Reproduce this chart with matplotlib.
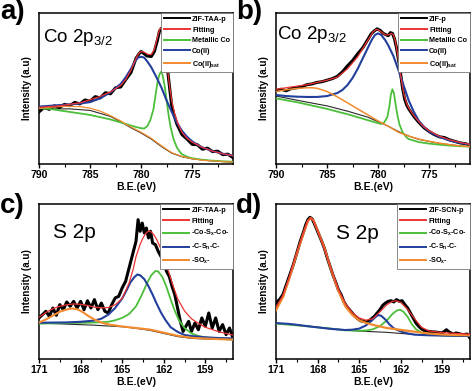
import matplotlib
matplotlib.use("Agg")
import matplotlib.pyplot as plt

plt.rcParams['font.family'] = ['Liberation Sans', 'DejaVu Sans']
plt.rcParams['mathtext.fontset'] = 'custom'
plt.rcParams['mathtext.rm'] = 'Liberation Sans'
plt.rcParams['mathtext.bf'] = 'Liberation Sans:bold'
plt.rcParams['mathtext.it'] = 'Liberation Sans:italic'

# ---------------- Panel a: Co 2p3/2, ZIF-TAA-p ----------------
a_data_x = [790, 789.5, 789, 788.5, 788, 787.5, 787, 786.5, 786, 785.5, 785, 784.5, 784, 783.5,
            783, 782.5, 782, 781.5, 781, 780.5, 780.2, 780, 779.7, 779.4, 779, 778.7, 778.4,
            778.2, 778, 777.8, 777.6, 777.4, 777.2, 777, 776.8, 776.5, 776, 775.5, 775, 774.5,
            774, 773.5, 773, 772.5, 772, 771.5, 771]
a_data_y = [34.5, 37.5, 36.2, 38.5, 37.4, 39.5, 38.6, 40.8, 39.8, 42.4, 41.5, 44.6, 43.8, 47.2,
            46.5, 50.5, 51.0, 56.0, 60.5, 70.0, 73.0, 74.5, 73.0, 71.5, 71.2, 74.5, 82.0,
            88.0, 90.0, 85.0, 74.0, 62.0, 50.0, 38.5, 33.0, 26.5, 19.5, 16.5, 13.0, 12.8,
            9.8, 10.5, 8.2, 8.5, 6.2, 6.5, 4.2]
a_fit_x = [790, 788, 786, 785, 784, 783, 782, 781.5, 781, 780.5, 780.2, 780, 779.7, 779.3, 779,
           778.7, 778.4, 778.2, 778.1, 778, 777.8, 777.6, 777.4, 777.2, 777, 776.7, 776.4, 776,
           775.5, 775, 774, 773, 772, 771]
a_fit_y = [37.5, 38.5, 40.5, 42.5, 44.8, 47.8, 52.0, 56.0, 62.0, 70.0, 73.5, 74.5, 74.0, 72.5, 72.5,
           76.0, 84.0, 89.0, 90.0, 89.5, 84.0, 74.0, 62.0, 51.0, 42.0, 33.0, 27.0, 21.0,
           17.0, 14.5, 11.0, 8.5, 6.8, 5.5]
a_met_x = [790, 789, 788, 787, 786, 785, 784, 783, 782, 781, 780.5, 780, 779.7, 779.4, 779.1, 778.8,
           778.6, 778.4, 778.2, 778.05, 777.9, 777.7, 777.5, 777.3, 777.1, 776.8, 776.5, 776.2,
           776, 775.5, 775, 774, 773, 772, 771]
a_met_y = [37.0, 36.5, 35.5, 34.5, 33.5, 32.5, 31.0, 29.5, 27.5, 25.5, 24.5, 23.7, 23.5, 25.0, 29.0,
           36.0, 45.0, 54.0, 59.5, 61.0, 59.0, 52.0, 42.0, 32.0, 24.0, 16.0, 11.0, 8.0,
           6.5, 4.8, 3.8, 2.8, 2.2, 1.8, 1.5]
a_co2_x = [790, 789, 788, 787, 786, 785, 784, 783, 782, 781.5, 781, 780.6, 780.3, 780, 779.7, 779.4,
           779, 778.5, 778, 777.5, 777, 776.5, 776, 775.5, 775, 774.5, 774, 773, 772, 771]
a_co2_y = [38.0, 38.5, 39.0, 39.5, 40.0, 41.0, 43.5, 47.5, 53.0, 57.5, 63.0, 68.0, 70.5, 71.0, 70.5,
           68.0, 64.0, 57.5, 50.5, 42.0, 34.5, 27.5, 22.0, 18.0, 15.0, 12.8, 11.0, 8.5, 6.8, 5.5]
a_sat_x = [790, 789, 788, 787, 786, 785, 784, 783, 782, 781, 780, 779, 778, 777, 776, 775, 774, 773,
           772, 771]
a_sat_y = [37.0, 37.5, 38.0, 38.2, 38.0, 37.0, 35.0, 32.0, 28.5, 24.5, 21.0, 17.0, 12.0, 7.5, 5.0,
           3.5, 2.5, 2.0, 1.6, 1.3]
a_bg_x = [790, 787, 785, 783, 782, 781, 780, 779, 778, 777, 776, 775, 773, 771]
a_bg_y = [36.5, 36.5, 35.5, 31.5, 28.0, 24.0, 20.5, 16.5, 11.5, 7.2, 4.8, 3.4, 2.0, 1.2]

# ---------------- Panel b: Co 2p3/2, ZIF-p ----------------
b_data_x = [790, 789.5, 789, 788.5, 788, 787.5, 787, 786.5, 786, 785.5, 785, 784.5, 784, 783.5, 783,
            782.5, 782, 781.5, 781, 780.7, 780.4, 780.1, 779.8, 779.5, 779.2, 779, 778.8, 778.6,
            778.4, 778.2, 778, 777.8, 777.6, 777.4, 777.2, 777, 776.5, 776, 775.5, 775, 774.5,
            774, 773.5, 773, 772.5, 772, 771.5, 771]
b_data_y = [48.6, 49.5, 48.5, 50.0, 50.5, 51.0, 52.5, 53.0, 54.0, 54.5, 55.5, 56.5, 58.0, 61.0, 65.0,
            68.5, 73.0, 77.0, 82.5, 86.0, 88.0, 89.5, 88.5, 86.5, 85.5, 85.0, 87.0, 86.5,
            83.0, 77.0, 69.0, 60.0, 50.0, 43.0, 39.0, 36.5, 31.5, 27.5, 24.0, 21.5, 19.5,
            18.0, 17.5, 16.0, 15.0, 14.0, 13.5, 12.5]
b_fit_x = [790, 789, 788, 787, 786, 785, 784, 783, 782, 781.5, 781, 780.5, 780.2, 780, 779.7, 779.3,
           779, 778.7, 778.5, 778.3, 778.1, 777.9, 777.7, 777.5, 777.2, 777, 776.5, 776, 775.5,
           775, 774, 773, 772, 771]
b_fit_y = [49.5, 50.5, 51.5, 52.5, 54.0, 55.5, 57.5, 63.0, 71.0, 76.5, 82.0, 87.5, 89.0, 89.0, 87.5,
           85.5, 85.5, 86.5, 85.5, 81.0, 73.0, 64.0, 55.0, 47.0, 40.0, 37.0, 32.0, 28.0, 24.5,
           22.0, 18.5, 16.0, 14.3, 13.0]
b_met_x = [790, 789, 788, 787, 786, 785, 784, 783, 782, 781, 780, 779.7, 779.4, 779.1, 778.9, 778.75,
           778.6, 778.45, 778.3, 778.1, 777.9, 777.6, 777.2, 777, 776, 775, 774, 773, 772, 771]
b_met_y = [43.5, 42.2, 41.0, 39.5, 38.0, 36.5, 34.7, 33.0, 31.0, 29.0, 27.0, 26.5, 27.5, 31.0, 38.0,
           46.0, 49.5, 47.0, 40.0, 32.0, 26.0, 21.0, 17.5, 16.5, 14.5, 13.5, 12.8, 12.2, 11.8, 11.5]
b_co2_x = [790, 789, 788, 787, 786, 785, 784, 783.5, 783, 782.5, 782, 781.5, 781, 780.6, 780.3, 780,
           779.7, 779.3, 779, 778.5, 778, 777.5, 777, 776.5, 776, 775.5, 775, 774, 773, 772, 771]
b_co2_y = [45.7, 45.0, 44.6, 44.4, 44.4, 45.0, 47.0, 49.0, 52.3, 57.0, 63.0, 70.0, 77.0, 82.5, 85.5,
           86.5, 85.5, 82.0, 78.5, 71.5, 62.0, 52.0, 42.0, 34.5, 28.5, 24.5, 21.5, 18.0, 15.5,
           14.0, 13.0]
b_sat_x = [790, 789, 788, 787, 786.5, 786, 785, 784, 783, 782, 781, 780, 779, 778, 777, 776, 775, 774,
           773, 772, 771]
b_sat_y = [48.0, 49.2, 50.0, 50.5, 50.5, 50.2, 48.0, 44.5, 40.5, 36.5, 32.5, 28.5, 25.0, 21.0, 18.5,
           16.5, 15.0, 13.8, 12.8, 12.0, 11.5]
b_bg_x = [790, 787, 785, 783, 781, 780, 779, 778, 777, 776, 774, 772, 771]
b_bg_y = [45.0, 41.0, 38.5, 35.0, 31.0, 28.0, 25.0, 21.5, 18.5, 16.3, 13.6, 12.0, 11.5]

# ---------------- Panel c: S 2p, ZIF-TAA-p ----------------
c_data_x = [171, 170.75, 170.5, 170.25, 170, 169.75, 169.5, 169.25, 169, 168.75, 168.5, 168.25, 168,
            167.75, 167.5, 167.25, 167, 166.75, 166.5, 166.25, 166, 165.75, 165.5, 165.25, 165,
            164.75, 164.5, 164.25, 164, 163.85, 163.7, 163.55, 163.4, 163.25, 163.1, 162.95, 162.8,
            162.6, 162.4, 162.2, 162, 161.8, 161.6, 161.4, 161.2, 161, 160.8, 160.6, 160.4, 160.2,
            160, 159.75, 159.5, 159.25, 159, 158.75, 158.5, 158.25, 158, 157.75, 157.5, 157.25, 157]
c_data_y = [26.5, 28.6, 30.8, 27.5, 32.9, 28.2, 35.1, 31.8, 36.8, 34.0, 37.2, 32.9, 37.2,
            31.8, 37.6, 32.9, 38.3, 31.8, 36.1, 30.8, 29.7, 35.1, 39.4, 40.4, 45.8,
            50.1, 58.7, 67.3, 75.9, 89.9, 82.4, 87.7, 81.3, 84.5, 78.1, 82.4, 74.8,
            73.8, 69.5, 66.2, 63.0, 56.6, 53.3, 46.9, 41.5, 32.9, 24.3, 17.8, 21.1, 24.3,
            17.8, 23.2, 18.9, 26.5, 21.1, 29.7, 20.0, 26.5, 17.8, 22.2, 15.7, 20.0, 13.5]
c_fit_x = [171, 170.5, 170, 169.5, 169, 168.5, 168, 167.5, 167, 166.5, 166, 165.5, 165, 164.5, 164.2,
           164, 163.7, 163.5, 163.3, 163.1, 162.9, 162.7, 162.5, 162.2, 162, 161.7, 161.5, 161.2,
           161, 160.5, 160, 159.5, 159, 158, 157]
c_fit_y = [26.9, 30.0, 32.5, 34.0, 35.0, 35.5, 35.3, 34.5, 33.5, 33.0, 33.2, 35.0, 39.0, 49.0, 58.0,
           66.0, 74.0, 78.0, 81.0, 82.5, 82.0, 80.0, 77.0, 71.0, 66.0, 58.0, 52.0, 44.0,
           39.0, 31.0, 26.0, 23.0, 20.5, 17.5, 15.5]
c_cos_x = [171, 170, 169, 168, 167, 166, 165.5, 165, 164.5, 164, 163.6, 163.2, 162.9, 162.6, 162.4,
           162.1, 161.8, 161.5, 161.2, 160.9, 160.5, 160, 159.5, 159, 158, 157]
c_cos_y = [22.8, 23.0, 23.2, 23.3, 23.5, 24.0, 25.0, 26.5, 29.0, 34.0, 41.0, 49.0, 54.0, 56.8, 56.5,
           53.0, 46.5, 38.5, 31.0, 25.0, 20.0, 16.5, 14.8, 14.0, 13.0, 12.5]
c_csc_x = [171, 170, 169, 168, 167, 166.5, 166, 165.5, 165, 164.7, 164.4, 164.1, 163.9, 163.7, 163.4,
           163.1, 162.8, 162.5, 162.2, 161.9, 161.5, 161, 160.5, 160, 159, 158, 157]
c_csc_y = [23.4, 23.5, 23.6, 24.0, 24.8, 26.0, 28.6, 33.0, 39.0, 44.0, 49.5, 53.0, 54.5, 54.0, 51.5,
           47.0, 41.5, 35.5, 30.0, 25.5, 20.5, 17.5, 15.5, 14.8, 14.0, 13.5, 13.3]
c_sox_x = [171, 170.5, 170, 169.5, 169, 168.6, 168.2, 167.8, 167.4, 167, 166.5, 166, 165, 164, 163,
           162, 161, 160, 159, 158, 157]
c_sox_y = [23.5, 25.5, 28.0, 30.5, 32.0, 32.6, 32.0, 30.0, 27.5, 25.5, 23.5, 22.3, 21.0, 20.0, 19.0,
           17.0, 15.0, 13.7, 13.2, 12.8, 12.5]
c_bg_x = [171, 169, 167, 165, 164, 163, 162, 161, 160, 159, 157]
c_bg_y = [23.2, 22.5, 21.8, 20.8, 19.8, 18.5, 16.5, 14.5, 13.3, 12.9, 12.5]

# ---------------- Panel d: S 2p, ZIF-SCN-p ----------------
d_data_x = [171, 170.9, 170.75, 170.5, 170.25, 170, 169.75, 169.5, 169.25, 169, 168.85, 168.7, 168.55,
            168.4, 168.25, 168.1, 167.9, 167.7, 167.5, 167.3, 167.1, 166.9, 166.7, 166.5, 166.3,
            166.1, 165.9, 165.7, 165.5, 165.3, 165.1, 164.9, 164.7, 164.5, 164.3, 164.1, 163.9,
            163.7, 163.5, 163.3, 163.1, 162.9, 162.7, 162.5, 162.3, 162.1, 161.9, 161.7, 161.5,
            161.3, 161.1, 160.9, 160.7, 160.5, 160.3, 160, 159.5, 159, 158.7, 158.5, 158.2, 158,
            157.5, 157.2, 157]
d_data_y = [32.9, 37.2, 38.3, 41.5, 48.0, 54.4, 60.9, 68.4, 75.9, 82.4, 86.7, 89.9, 91.4,
            90.5, 87.7, 84.5, 80.2, 75.9, 71.2, 65.2, 59.8, 54.4, 49.7, 44.7, 41.5,
            36.8, 34.0, 31.8, 29.7, 27.5, 26.0, 24.7, 24.3, 23.9, 24.7, 26.0, 27.5,
            29.7, 31.8, 34.6, 36.1, 37.2, 37.6, 36.8, 38.3, 37.2, 37.6, 35.1, 32.9,
            29.7, 26.5, 23.2, 21.1, 19.4, 18.3, 17.8, 17.4, 16.8, 18.9, 17.4, 16.1, 16.8,
            15.7, 16.1, 13.5]
d_fit_x = [171, 170.5, 170, 169.5, 169, 168.7, 168.5, 168.3, 168, 167.5, 167, 166.5, 166, 165.5, 165,
           164.5, 164, 163.5, 163, 162.6, 162.3, 162, 161.5, 161, 160.5, 160, 159, 158, 157]
d_fit_y = [33.5, 41.0, 54.0, 68.5, 82.0, 89.5, 91.0, 89.5, 83.0, 71.0, 57.5, 45.0, 36.0, 30.0, 26.5,
           25.0, 26.0, 30.5, 35.0, 37.2, 37.5, 36.5, 32.0, 26.0, 20.5, 18.2, 17.0, 16.5, 16.0]
d_cos_x = [171, 169, 167, 166, 165, 164.5, 164, 163.5, 163, 162.6, 162.3, 162.05, 161.8, 161.5,
           161.2, 160.9, 160.5, 160, 159, 157]
d_cos_y = [22.8, 21.3, 19.6, 18.5, 18.2, 18.4, 19.2, 21.2, 24.9, 29.0, 31.2, 31.8, 30.5, 27.2,
           22.5, 19.2, 17.0, 15.8, 15.2, 14.8]
d_csc_x = [171, 170, 169, 168, 167, 166, 165.5, 165, 164.5, 164.1, 163.8, 163.6, 163.4, 163.1, 162.8,
           162.5, 162, 161.5, 161, 160, 159, 157]
d_csc_y = [23.2, 22.6, 21.5, 20.4, 19.4, 18.7, 18.9, 19.6, 21.7, 24.7, 27.3, 28.4, 27.8, 25.4, 22.2,
           19.8, 17.8, 16.5, 15.7, 15.3, 15.1, 14.8]
d_sox_x = [171, 170.5, 170, 169.5, 169, 168.7, 168.5, 168.3, 168, 167.5, 167, 166.5, 166, 165.5, 165,
           164.5, 164, 163, 162, 161, 160, 159, 158, 157]
d_sox_y = [31.5, 39.8, 53.0, 68.0, 81.5, 89.0, 91.0, 89.5, 83.0, 71.5, 57.0, 44.0, 34.0, 28.5, 25.0,
           23.3, 22.0, 20.0, 18.8, 17.6, 16.5, 15.8, 15.5, 15.3]
d_bg_x = [171, 169, 167, 165, 163, 161, 159, 157]
d_bg_y = [23.0, 21.5, 19.5, 18.0, 17.2, 15.8, 15.2, 14.8]

# ---------------- labels ----------------
co_xlim = (790, 771)
s_xlim = (171, 157)
co_ticks = [790, 785, 780, 775]
s_ticks = [171, 168, 165, 162, 159]
a_labels = ['ZIF-TAA-p', 'Fitting', 'Metallic Co', 'Co(II)', r'Co(II)$_{\mathbf{sat}}$']
b_labels = ['ZIF-p', 'Fitting', 'Metallic Co', 'Co(II)', r'Co(II)$_{\mathbf{sat}}$']
c_labels = ['ZIF-TAA-p', 'Fitting', r'-Co-S$_{\mathbf{x}}$-Co-', r'-C-S$_{\mathbf{n}}$-C-', r'-SO$_{\mathbf{x}}$-']
d_labels = ['ZIF-SCN-p', 'Fitting', r'-Co-S$_{\mathbf{x}}$-Co-', r'-C-S$_{\mathbf{n}}$-C-', r'-SO$_{\mathbf{x}}$-']

C_BLACK = '#000000'
C_RED = '#ee3333'
C_GREEN = '#4cbf3a'
C_BLUE = '#233f9c'
C_ORANGE = '#f28a2e'

fig = plt.figure(figsize=(4.74, 3.91), dpi=100)
W, H = 474, 391

def add_ax(x0, x1, y0, y1):
    return fig.add_axes([x0 / W, 1 - y1 / H, (x1 - x0) / W, (y1 - y0) / H])

ax_a = add_ax(39, 233, 13, 164)
ax_b = add_ax(276, 470, 13, 164)
ax_c = add_ax(39, 233, 204, 359)
ax_d = add_ax(276, 470, 204, 359)

def draw(ax, data, fit, comps, bg, labels, xlim, ticks, minor_step, sat_width=1.2):
    ax.plot(bg[0], bg[1], color='#2a2a2a', lw=0.8, zorder=1)
    h0, = ax.plot(data[0], data[1], color=C_BLACK, lw=2.2, zorder=2)
    h1, = ax.plot(fit[0], fit[1], color=C_RED, lw=0.9, zorder=5)
    hs = []
    for (xs, ys), col, lw in zip(comps, [C_GREEN, C_BLUE, C_ORANGE], [1.3, 1.5, sat_width]):
        h, = ax.plot(xs, ys, color=col, lw=lw, zorder=3)
        hs.append(h)
    ax.set_xlim(*xlim)
    ax.set_ylim(0, 100)
    ax.set_xticks(ticks)
    minors = []
    t = xlim[0]
    while t >= xlim[1]:
        minors.append(t)
        t -= minor_step
    ax.set_xticks(minors, minor=True)
    ax.set_yticks([])
    ax.tick_params(axis='x', which='major', direction='out', length=3, width=1.0, pad=1.5,
                   labelsize=7.5)
    ax.tick_params(axis='x', which='minor', direction='out', length=2, width=0.8)
    for lab in ax.get_xticklabels():
        lab.set_fontweight('bold')
    for sp in ax.spines.values():
        sp.set_linewidth(1.1)
    ax.set_xlabel('B.E.(eV)', fontsize=7.5, fontweight='bold', labelpad=1)
    ax.set_ylabel('Intensity (a.u)', fontsize=7, fontweight='bold', labelpad=5)
    leg = ax.legend([h0, h1] + hs, labels, loc='upper right', borderaxespad=0.0,
                    prop={'size': 5.2, 'weight': 'bold'}, handlelength=3.6, handletextpad=0.3,
                    labelspacing=0.5, borderpad=0.4, frameon=True, fancybox=False,
                    framealpha=1.0, edgecolor='#777777')
    leg.get_frame().set_linewidth(0.6)
    for line in leg.get_lines():
        line.set_linewidth(1.4)
    return ax

draw(ax_a, (a_data_x, a_data_y), (a_fit_x, a_fit_y),
     [(a_met_x, a_met_y), (a_co2_x, a_co2_y), (a_sat_x, a_sat_y)], (a_bg_x, a_bg_y),
     a_labels, co_xlim, co_ticks, 2.5, sat_width=0.9)
draw(ax_b, (b_data_x, b_data_y), (b_fit_x, b_fit_y),
     [(b_met_x, b_met_y), (b_co2_x, b_co2_y), (b_sat_x, b_sat_y)], (b_bg_x, b_bg_y),
     b_labels, co_xlim, co_ticks, 2.5, sat_width=1.1)
draw(ax_c, (c_data_x, c_data_y), (c_fit_x, c_fit_y),
     [(c_cos_x, c_cos_y), (c_csc_x, c_csc_y), (c_sox_x, c_sox_y)], (c_bg_x, c_bg_y),
     c_labels, s_xlim, s_ticks, 1.5, sat_width=1.5)
draw(ax_d, (d_data_x, d_data_y), (d_fit_x, d_fit_y),
     [(d_cos_x, d_cos_y), (d_csc_x, d_csc_y), (d_sox_x, d_sox_y)], (d_bg_x, d_bg_y),
     d_labels, s_xlim, s_ticks, 1.5, sat_width=1.6)

# panel titles
ax_a.text(0.02, 0.91, r'Co 2p$_{3/2}$', transform=ax_a.transAxes, fontsize=13.5, va='top', ha='left')
ax_b.text(0.005, 0.93, r'Co 2p$_{3/2}$', transform=ax_b.transAxes, fontsize=13.5, va='top', ha='left')
ax_c.text(0.07, 0.88, 'S 2p', transform=ax_c.transAxes, fontsize=15, va='top', ha='left')
ax_d.text(0.31, 0.87, 'S 2p', transform=ax_d.transAxes, fontsize=15, va='top', ha='left')

# panel letters
for lbl, (px, py) in zip(['a)', 'b)', 'c)', 'd)'], [(0, -1), (236, -1), (0, 193), (236, 193)]):
    fig.text(px / W, 1 - py / H, lbl, fontsize=20, fontweight='bold', va='top', ha='left')

fig.savefig('out.png', dpi=100)
